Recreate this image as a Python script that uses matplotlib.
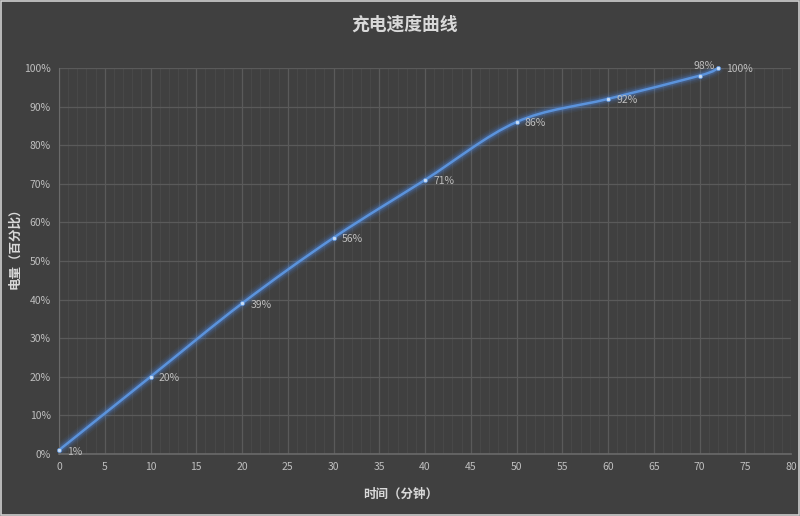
import matplotlib

matplotlib.use("Agg")

import numpy as np
import matplotlib.pyplot as plt
from matplotlib.path import Path
from matplotlib.patches import PathPatch, Rectangle
from matplotlib.ticker import MultipleLocator, PercentFormatter

plt.rcParams["font.family"] = ["Noto Sans CJK SC", "DejaVu Sans"]

minutes = [0, 10, 20, 30, 40, 50, 60, 70, 72]
battery = [1, 20, 39, 56, 71, 86, 92, 98, 100]
point_labels = ["1%", "20%", "39%", "56%", "71%", "86%", "92%", "98%", "100%"]

title = "充电速度曲线"
x_title = "时间（分钟）"
y_title = "电量（百分比）"

bg = "#404040"
grid_major = "#5a5a5a"
grid_minor = "#4a4a4a"
text_col = "#bfbfbf"
line_col = "#5b93dc"


def smooth_path(xs, ys):
    # Bezier control points like Excel's smoothed line
    pts = np.column_stack([xs, ys]).astype(float)
    n = len(pts)
    verts = [pts[0]]
    codes = [Path.MOVETO]
    for i in range(n - 1):
        p0 = pts[i - 1] if i > 0 else pts[i]
        p1 = pts[i]
        p2 = pts[i + 1]
        p3 = pts[i + 2] if i + 2 < n else pts[i + 1]
        c1 = p1 + (p2 - p0) / 6.0
        c2 = p2 - (p3 - p1) / 6.0
        verts += [c1, c2, p2]
        codes += [Path.CURVE4] * 3
    return Path(verts, codes)


fig = plt.figure(figsize=(8, 5.16), dpi=100, facecolor=bg)
ax = fig.add_axes([0.07375, 0.1202, 0.915, 0.748])
ax.set_facecolor(bg)

ax.set_xlim(0, 80)
ax.set_ylim(0, 100)
ax.xaxis.set_major_locator(MultipleLocator(5))
ax.xaxis.set_minor_locator(MultipleLocator(1))
ax.yaxis.set_major_locator(MultipleLocator(10))
ax.yaxis.set_major_formatter(PercentFormatter(decimals=0))

ax.grid(which="major", axis="both", color=grid_major, linewidth=0.9)
ax.grid(which="minor", axis="x", color=grid_minor, linewidth=0.6)
ax.set_axisbelow(True)

for side in ["top", "right"]:
    ax.spines[side].set_visible(False)
ax.spines["left"].set_color("#6a6a6a")
ax.spines["bottom"].set_color("#6a6a6a")
ax.spines["bottom"].set_linewidth(1.2)

ax.tick_params(which="both", length=0, colors=text_col, labelsize=7.5)
ax.tick_params(axis="x", pad=6)
ax.tick_params(axis="y", pad=6)

path = smooth_path(minutes, battery)
# glow
for lw, a in [(9, 0.06), (7, 0.08), (5, 0.12), (3.8, 0.18)]:
    ax.add_patch(PathPatch(path, facecolor="none", edgecolor="#4f8ff0",
                           linewidth=lw, alpha=a, capstyle="round"))
ax.add_patch(PathPatch(path, facecolor="none", edgecolor=line_col, linewidth=1.8))

ax.plot(minutes, battery, "o", markersize=3, color="#c8dcf5",
        markeredgecolor=line_col, markeredgewidth=0.5, zorder=5, clip_on=False)

for x, y, lab in zip(minutes, battery, point_labels):
    if lab == "98%":
        ax.annotate(lab, (x, y), xytext=(3, 7), textcoords="offset points",
                    ha="center", va="center", color=text_col, fontsize=7.5)
    else:
        ax.annotate(lab, (x, y), xytext=(6, -1), textcoords="offset points",
                    ha="left", va="center", color=text_col, fontsize=7.5)

fig.text(0.505, 0.951, title, ha="center", va="center", color="#d9d9d9",
         fontsize=12.8, fontweight="bold")
fig.text(0.501, 0.043, x_title, ha="center", va="center", color="#d9d9d9",
         fontsize=9, fontweight="bold")
fig.text(0.018, 0.525, y_title, ha="center", va="center", color="#d9d9d9",
         fontsize=9, fontweight="bold", rotation=90)

fig.patches.append(Rectangle((0.001, 0.001), 0.998, 0.997, transform=fig.transFigure,
                             fill=False, edgecolor="#d0d0d0", linewidth=1.2))

fig.savefig("out.png", dpi=100, facecolor=bg)
